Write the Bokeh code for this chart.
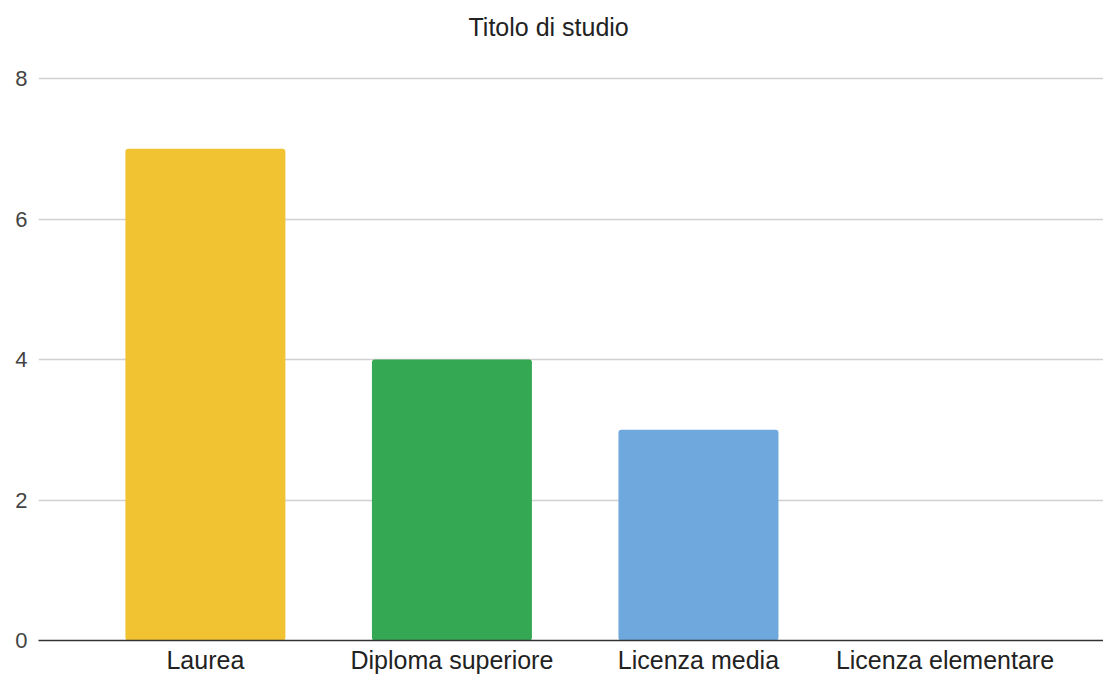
from bokeh.plotting import figure
from bokeh.models import ColumnDataSource, FixedTicker, Range1d, Title
from bokeh.embed import file_html
from bokeh.resources import INLINE

title_text = "Titolo di studio"
categories = ["Laurea", "Diploma superiore", "Licenza media", "Licenza elementare"]
values = [7, 4, 3, 0]
colors = ["#F1C232", "#34A853", "#6FA8DC", "#E06666"]
y_ticks = [0, 2, 4, 6, 8]

xs = list(range(len(categories)))
src = ColumnDataSource(dict(x=xs, top=values, color=colors))

FONT = "Liberation Sans"

p = figure(width=1103, height=676, output_backend="svg", toolbar_location=None,
           x_range=Range1d(-0.677, 3.643), y_range=Range1d(0, 8.114),
           title=title_text)
p.min_border_left = 38
p.min_border_right = 0
p.min_border_top = 0
p.min_border_bottom = 0
p.outline_line_color = None
p.background_fill_color = "white"
p.border_fill_color = "white"

p.title.align = "left"
p.title.vertical_align = "top"
p.title.text_font = FONT
p.title.text_font_size = "25px"
p.title.text_font_style = "normal"
p.title.text_color = "#222222"
p.title.offset = 430
p.title.standoff = 25

# empty spacer between title and plot area
p.add_layout(Title(text=" ", text_font_size="10px", standoff=2), "above")

p.vbar(x="x", top="top", bottom=0, width=0.649, fill_color="color", line_color=None,
       source=src, border_radius=3)

p.xaxis.ticker = FixedTicker(ticks=xs)
p.xaxis.major_label_overrides = {i: c for i, c in enumerate(categories)}
p.xaxis.major_tick_line_color = None
p.xaxis.major_tick_out = 0
p.xaxis.major_tick_in = 0
p.xaxis.minor_tick_line_color = None
p.xaxis.axis_line_color = "#333333"
p.xaxis.axis_line_width = 1.5
p.xaxis.major_label_text_font = FONT
p.xaxis.major_label_text_font_size = "25px"
p.xaxis.major_label_text_color = "#222222"
p.xaxis.major_label_standoff = 5

p.yaxis.ticker = FixedTicker(ticks=y_ticks)
p.yaxis.major_tick_line_color = None
p.yaxis.major_tick_out = 0
p.yaxis.major_tick_in = 0
p.yaxis.minor_tick_line_color = None
p.yaxis.axis_line_color = None
p.yaxis.major_label_text_font = FONT
p.yaxis.major_label_text_font_size = "22px"
p.yaxis.major_label_text_color = "#444444"
p.yaxis.major_label_standoff = 11

p.xgrid.grid_line_color = None
p.ygrid.ticker = FixedTicker(ticks=y_ticks)
p.ygrid.grid_line_color = "#d0d0d0"
p.ygrid.grid_line_width = 1.5

open("out.html", "w").write(file_html(p, INLINE))
